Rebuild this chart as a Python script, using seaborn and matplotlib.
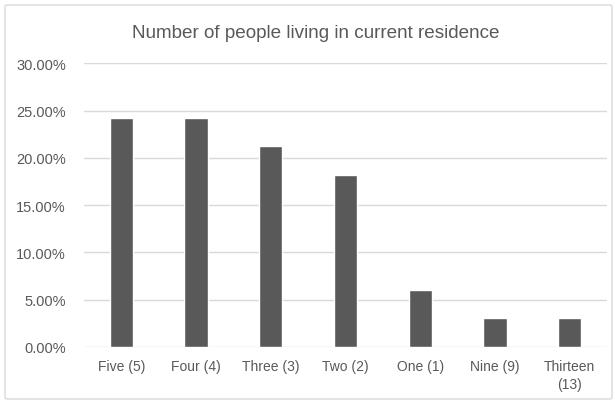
import matplotlib
matplotlib.use("Agg")
import matplotlib.pyplot as plt
import seaborn as sns
import pandas as pd
from matplotlib.patches import FancyBboxPatch
from matplotlib.ticker import PercentFormatter

categories = ["Five (5)", "Four (4)", "Three (3)", "Two (2)", "One (1)", "Nine (9)", "Thirteen\n(13)"]
shares = [24.24, 24.24, 21.21, 18.18, 6.06, 3.03, 3.03]
y_ticks = [0, 5, 10, 15, 20, 25, 30]

sns.set_theme(style="white")
plt.rcParams["font.family"] = ["Liberation Sans", "DejaVu Sans"]

text_color = "#595959"
bar_color = "#595959"
grid_color = "#d9d9d9"

W, H = 615, 402
fig = plt.figure(figsize=(W / 100, H / 100), dpi=100)
fig.patch.set_facecolor("white")

# chart frame (outline only, drawn behind the axes)
frame = FancyBboxPatch((5 / W, 2 / H), 607 / W, 394 / H,
                       boxstyle="round,pad=0,rounding_size=0.004",
                       transform=fig.transFigure, facecolor="none",
                       edgecolor="#d9d9d9", linewidth=1.0, zorder=-1)
fig.patches.append(frame)

left, right = 84 / W, 607 / W
bottom, top = (H - 348) / H, (H - 64.3) / H
ax = fig.add_axes([left, bottom, right - left, top - bottom])
ax.set_facecolor("none")
ax.set_zorder(2)

df = pd.DataFrame({"category": categories, "share": shares})
sns.barplot(data=df, x="category", y="share", color=bar_color, saturation=1,
            width=0.31, ax=ax, zorder=3)

ax.set_ylim(0, 30)
ax.set_xlim(-0.5, len(categories) - 0.5)
ax.set_yticks(y_ticks)
ax.yaxis.set_major_formatter(PercentFormatter(decimals=2))
ax.grid(axis="y", color=grid_color, linewidth=1.0, zorder=0)
ax.grid(axis="x", visible=False)
ax.set_axisbelow(True)
for s in ax.spines.values():
    s.set_visible(False)

ax.tick_params(axis="y", labelsize=10.5, colors=text_color, length=0, pad=13)
ax.tick_params(axis="x", labelsize=10, colors=text_color, length=0, pad=9)
for lbl in ax.get_xticklabels():
    lbl.set_linespacing(1.3)
ax.set_xlabel("")
ax.set_ylabel("")

fig.text(316 / W, 1 - 33.5 / H, "Number of people living in current residence",
         ha="center", va="center", fontsize=13.6, color=text_color)

fig.savefig("out.png", dpi=100)
